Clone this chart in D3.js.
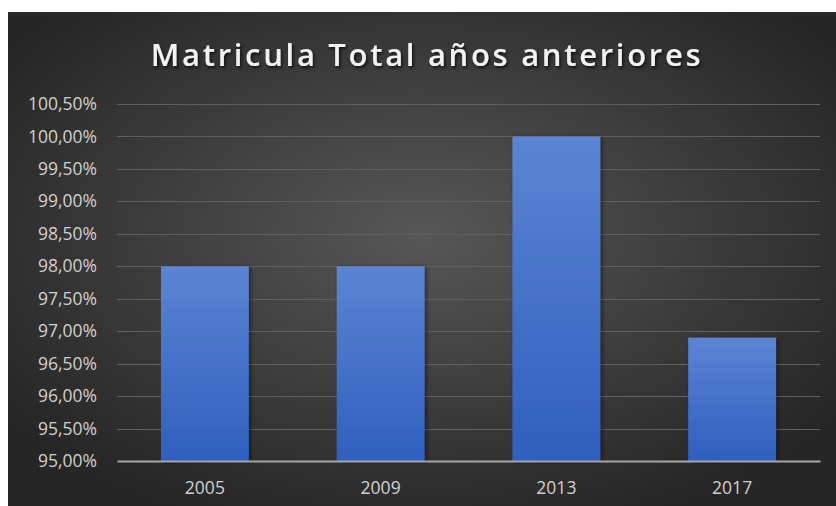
<!DOCTYPE html>
<html>
<head>
<meta charset="utf-8">
<script src="https://cdn.jsdelivr.net/npm/d3@7"></script>
<style>
  body { margin: 0; background: #fff; }
  svg { display: block; }
</style>
</head>
<body>
<div id="chart"></div>
<script>
// chart data
const years = ["2005", "2009", "2013", "2017"];
const matricula = [0.98, 0.98, 1.00, 0.969];
const yTicks = [0.95, 0.955, 0.96, 0.965, 0.97, 0.975, 0.98, 0.985, 0.99, 0.995, 1.00, 1.005];

const W = 836, H = 506;
const frame = {x: 8, y: 12};
const margin = {top: 104, right: 16, bottom: 45, left: 117};

const svg = d3.select("#chart")
  .append("svg")
  .attr("width", W)
  .attr("height", H);

const defs = svg.append("defs");

// dark radial background like the excel style
const bg = defs.append("radialGradient")
  .attr("id", "bg")
  .attr("cx", "50%").attr("cy", "45%").attr("r", "62%");
bg.append("stop").attr("offset", "0%").attr("stop-color", "#575757");
bg.append("stop").attr("offset", "100%").attr("stop-color", "#262626");

const barGrad = defs.append("linearGradient")
  .attr("id", "barGrad")
  .attr("x1", 0).attr("y1", 0).attr("x2", 0).attr("y2", 1);
barGrad.append("stop").attr("offset", "0%").attr("stop-color", "#5b85d3");
barGrad.append("stop").attr("offset", "100%").attr("stop-color", "#2f5fbd");

const shadow = defs.append("filter").attr("id", "shadow")
  .attr("x", "-10%").attr("y", "-10%").attr("width", "130%").attr("height", "130%");
shadow.append("feDropShadow")
  .attr("dx", 2).attr("dy", 1).attr("stdDeviation", 2)
  .attr("flood-color", "#000").attr("flood-opacity", 0.45);

const tshadow = defs.append("filter").attr("id", "tshadow")
  .attr("x", "-5%").attr("y", "-20%").attr("width", "110%").attr("height", "150%");
tshadow.append("feDropShadow")
  .attr("dx", 1.5).attr("dy", 2).attr("stdDeviation", 1.5)
  .attr("flood-color", "#000").attr("flood-opacity", 0.7);

svg.append("rect")
  .attr("x", frame.x).attr("y", frame.y)
  .attr("width", W - frame.x).attr("height", H - frame.y)
  .attr("fill", "url(#bg)");

const x = d3.scaleBand()
  .domain(years)
  .range([margin.left, W - margin.right])
  .paddingInner(0.5)
  .paddingOuter(0.25);

const y = d3.scaleLinear()
  .domain([0.95, 1.005])
  .range([H - margin.bottom, margin.top]);

const fmt = v => d3.format(".2f")(v * 100).replace(".", ",") + "%";

// gridlines
svg.append("g")
  .selectAll("line")
  .data(yTicks.filter(d => d > 0.95))
  .join("line")
  .attr("x1", margin.left)
  .attr("x2", W - margin.right)
  .attr("y1", d => Math.round(y(d)) + 0.5)
  .attr("y2", d => Math.round(y(d)) + 0.5)
  .attr("stroke", "#606060")
  .attr("stroke-width", 1.2);

// y axis labels
const yAxis = d3.axisLeft(y)
  .tickValues(yTicks)
  .tickFormat(fmt)
  .tickSize(0)
  .tickPadding(20);

svg.append("g")
  .attr("transform", `translate(${margin.left},0)`)
  .call(yAxis)
  .call(g => g.select(".domain").remove())
  .selectAll("text")
  .attr("font-family", "'Open Sans', sans-serif")
  .attr("font-size", 17.5)
  .attr("fill", "#d0d0d0");

// bars
svg.append("g")
  .selectAll("rect")
  .data(years)
  .join("rect")
  .attr("x", d => x(d))
  .attr("width", x.bandwidth())
  .attr("y", (d, i) => y(matricula[i]))
  .attr("height", (d, i) => y(0.95) - y(matricula[i]))
  .attr("fill", "url(#barGrad)")
  .attr("filter", "url(#shadow)");

// x axis
const xAxis = d3.axisBottom(x).tickSize(0).tickPadding(21);
svg.append("g")
  .attr("transform", `translate(0,${y(0.95)})`)
  .call(xAxis)
  .call(g => g.select(".domain")
    .attr("stroke", "#a6a6a6")
    .attr("stroke-width", 2))
  .selectAll("text")
  .attr("font-family", "'Open Sans', sans-serif")
  .attr("font-size", 17.5)
  .attr("fill", "#d0d0d0");

// title
svg.append("text")
  .attr("x", 427)
  .attr("y", 66)
  .attr("text-anchor", "middle")
  .attr("font-family", "'Open Sans', sans-serif")
  .attr("font-weight", 600)
  .attr("font-size", 31)
  .attr("letter-spacing", 2.7)
  .attr("fill", "#f2f2f2")
  .attr("filter", "url(#tshadow)")
  .text("Matricula Total años anteriores");
</script>
</body>
</html>
